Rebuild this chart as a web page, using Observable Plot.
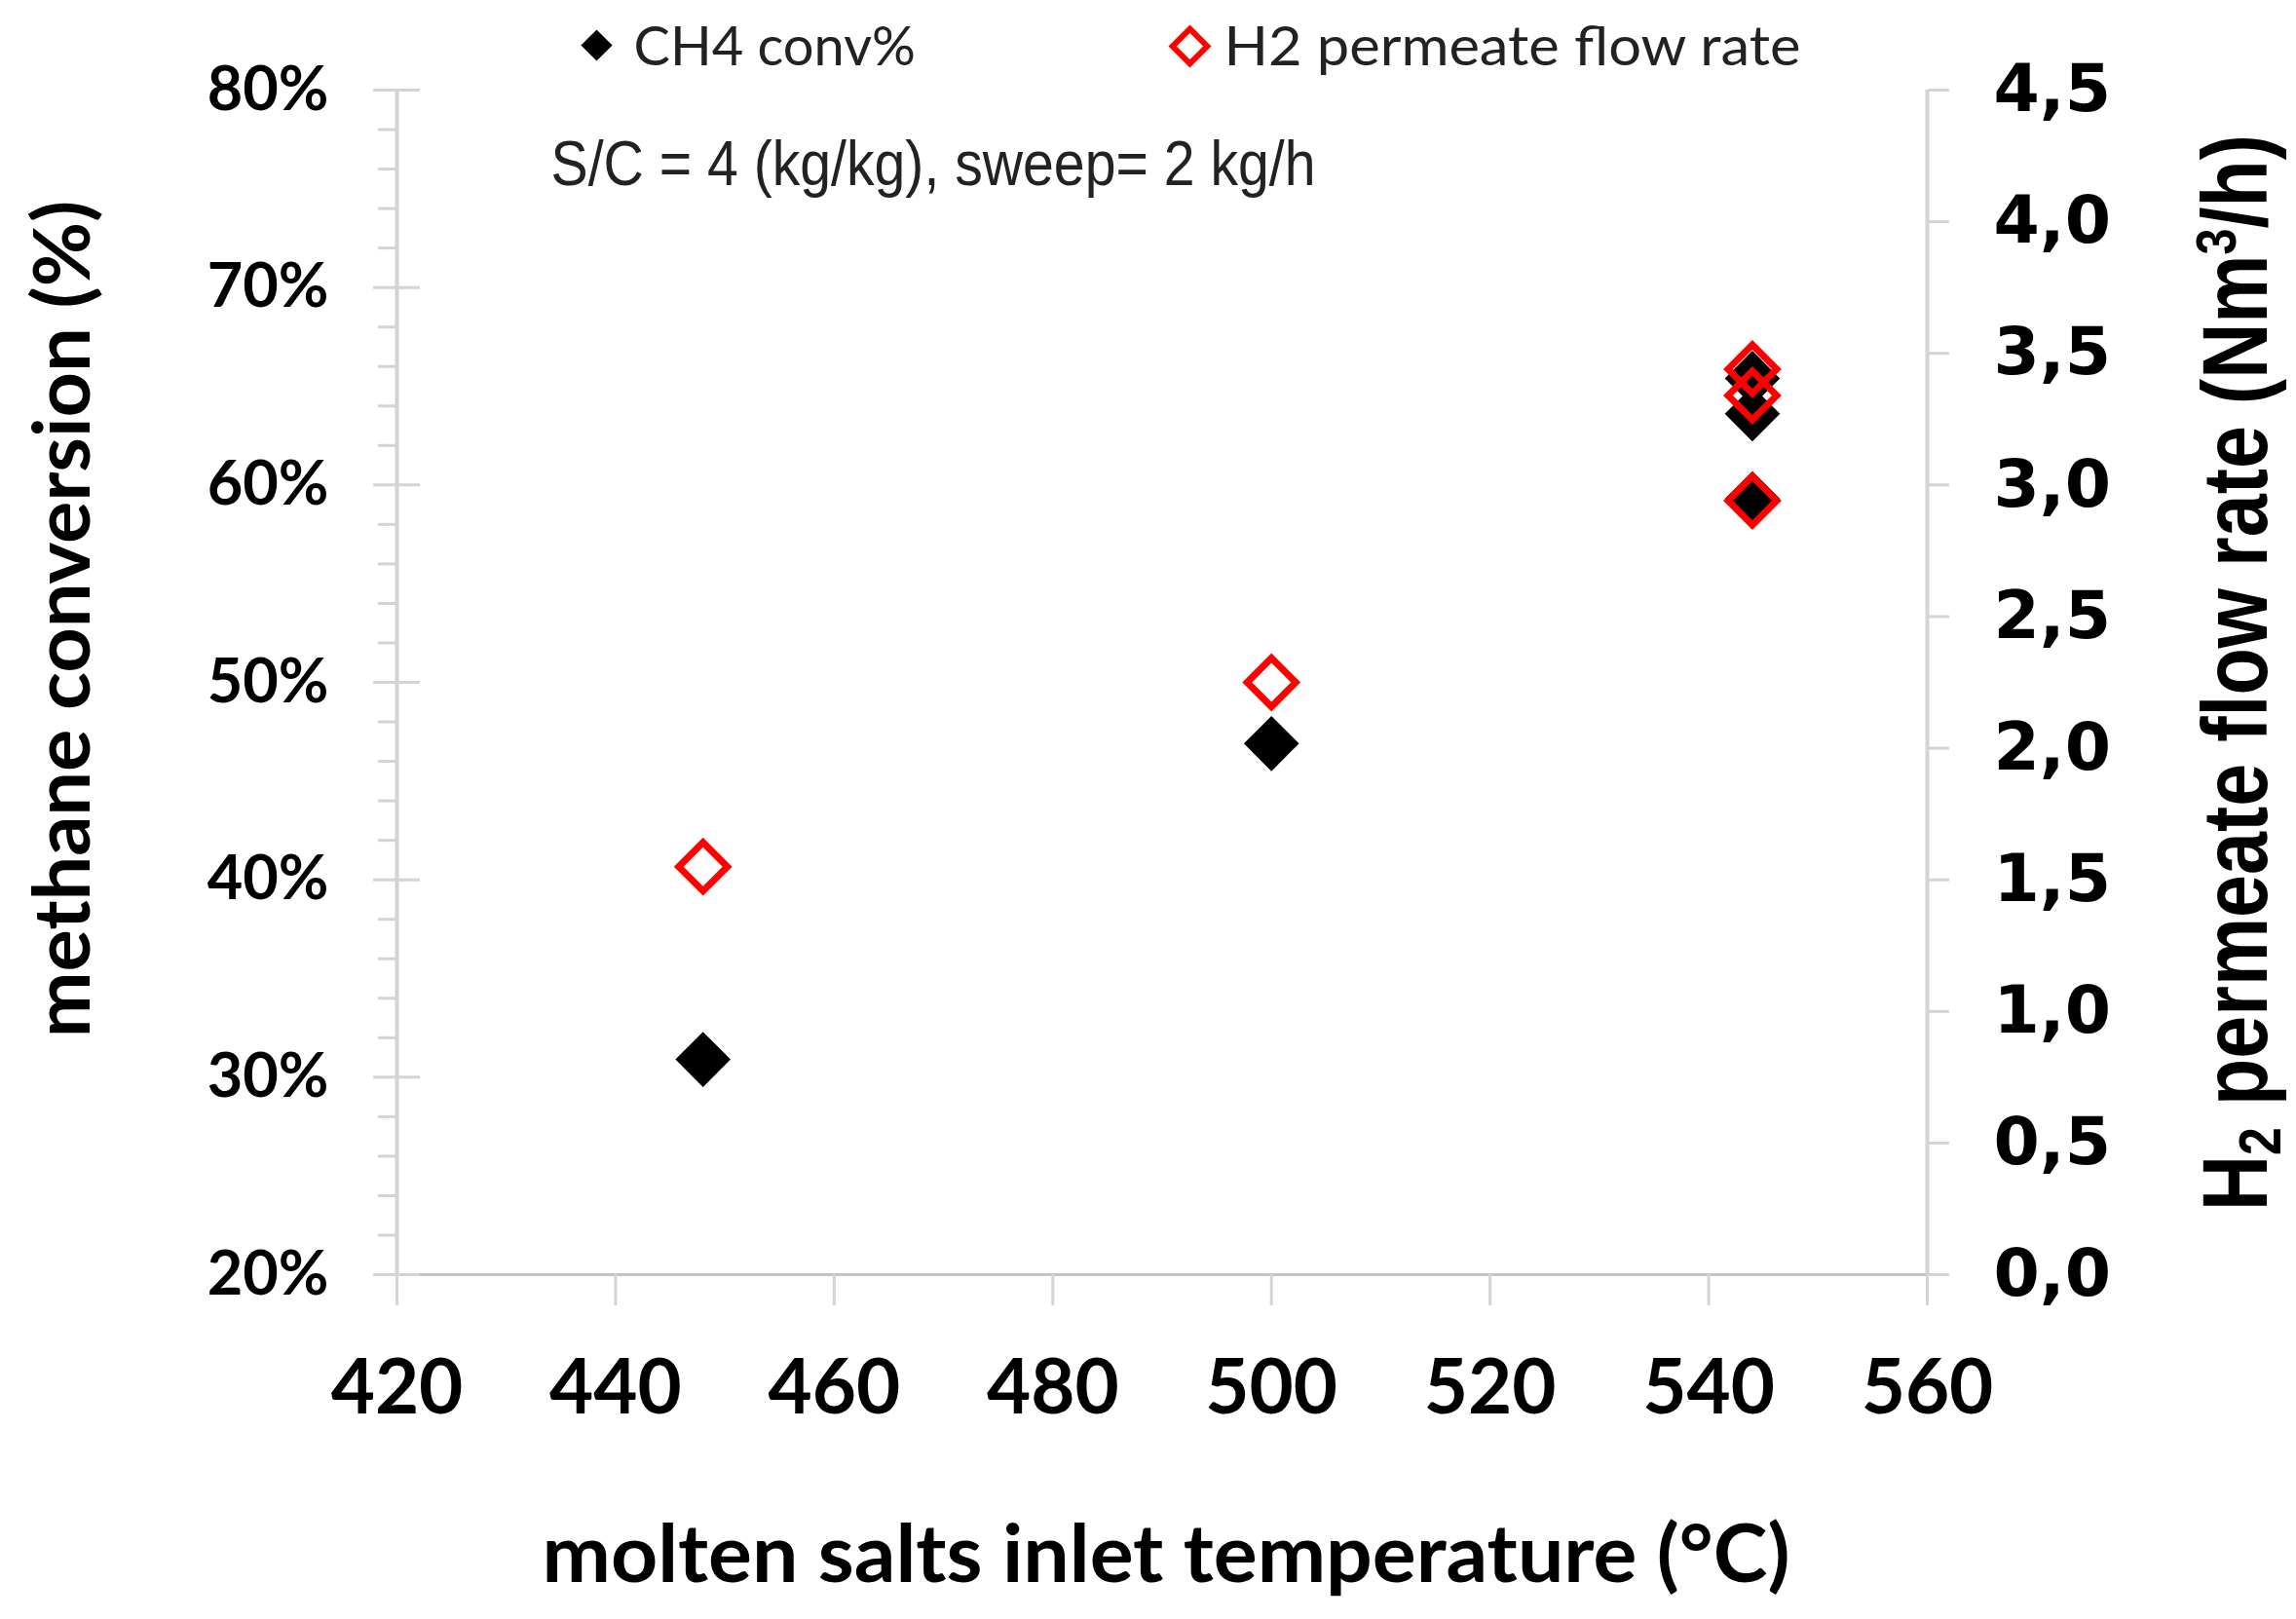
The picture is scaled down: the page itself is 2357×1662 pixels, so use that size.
<!DOCTYPE html>
<html>
<head>
<meta charset="utf-8">
<script src="https://cdn.jsdelivr.net/npm/d3@7"></script>
<script src="https://cdn.jsdelivr.net/npm/@observablehq/plot@0.6"></script>
<style>
  html, body { margin: 0; padding: 0; background: #ffffff; }
  #chart svg { display: block; }
</style>
</head>
<body>
<div id="chart"></div>
<script>
// ---- data ----
const ch4Temps = [448, 500, 544, 544, 544];
const ch4Conv = [30.9, 46.9, 65.4, 63.6, 59.3];          // methane conversion, %
const h2Temps = [448, 500, 544, 544, 544];
const h2Flow = [1.55, 2.25, 3.44, 3.34, 2.94];            // H2 permeate flow, Nm3/h

const xTicks = [420, 440, 460, 480, 500, 520, 540, 560];
const yLeftTicks = [20, 30, 40, 50, 60, 70, 80];
const yLeftMinor = [22, 24, 26, 28, 32, 34, 36, 38, 42, 44, 46, 48, 52, 54, 56, 58, 62, 64, 66, 68, 72, 74, 76, 78];
const yRightTicks = [0, 0.5, 1.0, 1.5, 2.0, 2.5, 3.0, 3.5, 4.0, 4.5];

const legendLabels = ["CH4 conv%", "H2 permeate flow rate"];
const annotation = "S/C = 4 (kg/kg), sweep= 2 kg/h";
const xTitle = "molten salts inlet temperature (°C)";
const yLeftTitle = "methane conversion (%)";
const yRightTitle = "H2 permeate flow rate (Nm3/h)";

// right axis (0..4.5) maps onto left axis (20..80)
const leftMin = 20, leftMax = 80, rightMax = 4.5;
const toLeft = v => leftMin + v * (leftMax - leftMin) / rightMax;
const fromLeft = y => (y - leftMin) * rightMax / (leftMax - leftMin);

const ch4Data = ch4Temps.map((t, i) => ({t, v: ch4Conv[i]}));
const h2Data = h2Temps.map((t, i) => ({t, v: h2Flow[i]}));

const axisGray = "#d4d4d4";

const chart = Plot.plot({
  width: 2357,
  height: 1662,
  marginLeft: 407,
  marginRight: 379,
  marginTop: 92,
  marginBottom: 354,
  style: {background: "#ffffff", color: "#000000", fontFamily: "Lato"},
  x: {domain: [420, 560], label: null},
  y: {domain: [leftMin, leftMax], label: null},
  marks: [
    // axis lines
    Plot.ruleX([420], {stroke: axisGray, strokeWidth: 4}),
    Plot.ruleX([560], {stroke: axisGray, strokeWidth: 4}),
    Plot.ruleY([20], {stroke: "#c4c4c4", strokeWidth: 3}),
    // left axis ticks
    Plot.axisY({anchor: "left", ticks: yLeftMinor, tickSize: 19, tickFormat: () => "", stroke: axisGray, strokeWidth: 3, label: null}),
    Plot.axisY({anchor: "left", ticks: yLeftTicks, tickSize: 48, dx: 24, tickFormat: () => "", stroke: axisGray, strokeWidth: 3, label: null}),
    Plot.axisY({anchor: "left", ticks: yLeftTicks, tickSize: 0, tickPadding: 70, tickFormat: d => d + "%",
      fontFamily: "Lato", fontWeight: "bold", fontSize: 63, label: null}),
    // right axis
    Plot.axisY({anchor: "right", ticks: yRightTicks.map(toLeft), tickSize: 22, tickFormat: () => "", stroke: axisGray, strokeWidth: 3, label: null}),
    Plot.axisY({anchor: "right", ticks: yRightTicks.map(toLeft), tickSize: 0, tickPadding: 68,
      tickFormat: d => d3.format(".1f")(fromLeft(d)).replace(".", ","),
      fontFamily: "DejaVu Sans", fontWeight: "bold", fontSize: 68, label: null}),
    // x axis
    Plot.axisX({ticks: xTicks, tickSize: 32, tickFormat: () => "", stroke: axisGray, strokeWidth: 3, label: null}),
    Plot.axisX({ticks: xTicks, tickSize: 0, tickPadding: 87, tickFormat: d => String(d),
      fontFamily: "Lato", fontWeight: "bold", fontSize: 78, label: null}),
    // data
    Plot.dot(ch4Data, {x: "t", y: "v", symbol: "diamond2", fill: "#000000", r: 25.5}),
    Plot.dot(h2Data, {x: "t", y: d => toLeft(d.v), symbol: "diamond2", fill: "none", stroke: "#ff0000", strokeWidth: 7, r: 22.5}),
    // legend
    Plot.dot([legendLabels[0]], {frameAnchor: "top-left", dx: 205, dy: -46, symbol: "diamond2", fill: "#000000", r: 14.5}),
    Plot.text([legendLabels[0]], {frameAnchor: "top-left", dx: 243, dy: -26, textAnchor: "start", lineAnchor: "bottom",
      fontFamily: "Lato", fontSize: 56, fill: "#222222"}),
    Plot.dot([legendLabels[1]], {frameAnchor: "top-left", dx: 814, dy: -45, symbol: "diamond2", fill: "#ffffff", stroke: "#ff0000", strokeWidth: 6, r: 16}),
    Plot.text([legendLabels[1]], {frameAnchor: "top-left", dx: 849, dy: -26, textAnchor: "start", lineAnchor: "bottom",
      fontFamily: "Lato", fontSize: 57, fill: "#222222"}),
    // annotation
    Plot.text([annotation], {frameAnchor: "top-left", dx: 158, dy: 97, textAnchor: "start", lineAnchor: "bottom",
      fontFamily: "Liberation Sans", fontSize: 64, fill: "#222222"}),
    // titles
    Plot.text([xTitle], {frameAnchor: "bottom", dx: 4, dy: 315, textAnchor: "middle", lineAnchor: "bottom",
      fontFamily: "Lato", fontWeight: "bold", fontSize: 82}),
    Plot.text([yLeftTitle], {frameAnchor: "left", rotate: -90, dx: -316, dy: -65, textAnchor: "middle", lineAnchor: "bottom",
      fontFamily: "Lato", fontWeight: "bold", fontSize: 81}),
    Plot.text([yRightTitle], {frameAnchor: "right", rotate: -90, dx: 348, dy: -10, textAnchor: "middle", lineAnchor: "bottom",
      fontFamily: "Liberation Sans", fontWeight: "bold", fontSize: 94})
  ]
});

// fitted text widths (condensed fonts are not installed) and sub/superscripts
d3.select(chart).selectAll("text").each(function() {
  const c = this.textContent;
  const t = d3.select(this);
  if (c === yRightTitle) {
    t.text(null);
    t.append("tspan").text("H");
    t.append("tspan").attr("font-size", "62").attr("dy", "14").text("2");
    t.append("tspan").attr("dy", "-14").text(" permeate flow rate (Nm");
    t.append("tspan").attr("font-size", "58").attr("dy", "-32").text("3");
    t.append("tspan").attr("dy", "32").text("/h)");
    t.attr("textLength", 1105).attr("lengthAdjust", "spacingAndGlyphs");
  } else if (c === annotation) {
    t.attr("textLength", 785).attr("lengthAdjust", "spacingAndGlyphs");
  } else if (c === xTitle) {
    t.attr("textLength", 1281).attr("lengthAdjust", "spacingAndGlyphs");
  } else if (c === legendLabels[1]) {
    t.attr("textLength", 592).attr("lengthAdjust", "spacingAndGlyphs");
  }
});

document.getElementById("chart").appendChild(chart);
</script>
</body>
</html>
